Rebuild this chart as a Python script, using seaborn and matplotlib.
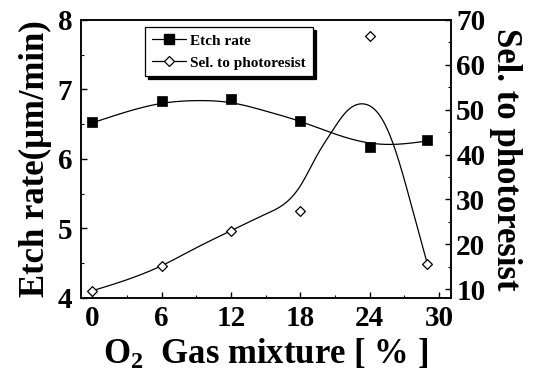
import numpy as np
import pandas as pd
import matplotlib
matplotlib.use("Agg")
import matplotlib.pyplot as plt
import seaborn as sns
from matplotlib.lines import Line2D
from matplotlib.ticker import MultipleLocator

# ---- data ----
o2_percent = [0, 6, 12, 18, 24, 29]
etch_rate = [6.53, 6.83, 6.87, 6.55, 6.17, 6.27]          # um/min (left axis)
selectivity = [9.6, 15.2, 23.0, 27.4, 66.5, 15.5]          # right axis

# fitted guide curves as drawn in the original
etch_curve_x = [0, 3, 6, 9, 12, 15, 18, 21, 24, 26, 29]
etch_curve_y = [6.52, 6.68, 6.80, 6.84, 6.81, 6.69, 6.54, 6.36, 6.23, 6.21, 6.26]
sel_curve_x = [0, 6, 9, 12, 15, 18, 19.4, 20.7, 22, 23.4, 25, 26, 27.7, 29]
sel_curve_y = [9.6, 15.2, 19.2, 23.0, 26.7, 33.0, 39.6, 45.0, 49.6, 51.3, 48.2, 42.6, 27.8, 15.5]

x_ticks = [0, 6, 12, 18, 24, 30]
left_ticks = [4, 5, 6, 7, 8]
right_ticks = [10, 20, 30, 40, 50, 60, 70]


def smooth(x, y, n=400):
    """natural cubic spline used only to render the guide curve smoothly"""
    x = np.asarray(x, float); y = np.asarray(y, float)
    nn = len(x); h = np.diff(x)
    A = np.zeros((nn, nn)); b = np.zeros(nn)
    A[0, 0] = A[-1, -1] = 1
    for i in range(1, nn - 1):
        A[i, i - 1] = h[i - 1]; A[i, i] = 2 * (h[i - 1] + h[i]); A[i, i + 1] = h[i]
        b[i] = 3 * ((y[i + 1] - y[i]) / h[i] - (y[i] - y[i - 1]) / h[i - 1])
    c = np.linalg.solve(A, b)
    xs = np.linspace(x[0], x[-1], n)
    idx = np.clip(np.searchsorted(x, xs) - 1, 0, nn - 2)
    dx = xs - x[idx]
    bc = (y[1:] - y[:-1]) / h - h * (2 * c[:-1] + c[1:]) / 3
    d = (c[1:] - c[:-1]) / (3 * h)
    ys = y[idx] + bc[idx] * dx + c[idx] * dx ** 2 + d[idx] * dx ** 3
    return xs, ys


sns.set_theme(style="ticks")
plt.rcParams["font.family"] = ["Liberation Serif", "DejaVu Serif"]
plt.rcParams["font.weight"] = "bold"
plt.rcParams["mathtext.fontset"] = "custom"
plt.rcParams["mathtext.rm"] = "Liberation Serif:bold"
plt.rcParams["mathtext.bf"] = "Liberation Serif:bold"
plt.rcParams["mathtext.it"] = "Liberation Serif:bold"
for key in ("text.color", "axes.labelcolor", "xtick.color", "ytick.color", "axes.edgecolor"):
    plt.rcParams[key] = "black"

fig = plt.figure(figsize=(5.33, 3.86), dpi=100)
ax = fig.add_axes([0.1514, 0.2280, 0.694, 0.7202])
ax2 = ax.twinx()

ex, ey = smooth(etch_curve_x, etch_curve_y)
sx, sy = smooth(sel_curve_x, sel_curve_y)
df_e = pd.DataFrame({"x": ex, "y": ey})
df_s = pd.DataFrame({"x": sx, "y": sy})
pts = pd.DataFrame({"x": o2_percent, "etch": etch_rate, "sel": selectivity})

sns.lineplot(data=df_e, x="x", y="y", ax=ax, color="black", lw=0.9,
             sort=False, estimator=None, legend=False)
sns.scatterplot(data=pts, x="x", y="etch", ax=ax, marker="s", s=46,
                color="black", edgecolor="black", linewidth=0.5, zorder=3, legend=False)
sns.lineplot(data=df_s, x="x", y="y", ax=ax2, color="black", lw=0.9,
             sort=False, estimator=None, legend=False)
sns.scatterplot(data=pts, x="x", y="sel", ax=ax2, marker="D", s=25,
                facecolor="white", edgecolor="black", linewidth=0.9, zorder=3, legend=False)

ax.set_xlim(-1, 31)
ax.set_ylim(4, 8)
ax2.set_ylim(8, 70)
ax.set_xticks(x_ticks)
ax.set_yticks(left_ticks)
ax2.set_yticks(right_ticks)
ax.xaxis.set_minor_locator(MultipleLocator(3))
ax.yaxis.set_minor_locator(MultipleLocator(0.5))
ax2.yaxis.set_minor_locator(MultipleLocator(5))

tick_fs = 21
ax.tick_params(axis="x", which="major", direction="in", length=4.5, width=1,
               labelsize=tick_fs, pad=5, top=False, colors="black")
ax.tick_params(axis="x", which="minor", direction="in", length=2.5, width=0.8, top=False)
ax.tick_params(axis="y", which="major", direction="in", length=4.5, width=1,
               labelsize=tick_fs, pad=6, right=False, colors="black")
ax.tick_params(axis="y", which="minor", direction="in", length=2.5, width=0.8, right=False)
ax2.tick_params(axis="y", which="major", direction="in", length=4.5, width=1,
                labelsize=tick_fs, pad=4, colors="black")
ax2.tick_params(axis="y", which="minor", direction="in", length=2.5, width=0.8)
for lab in ax.get_xticklabels() + ax.get_yticklabels() + ax2.get_yticklabels():
    lab.set_fontweight("bold")

for a in (ax, ax2):
    for sp in a.spines.values():
        sp.set_linewidth(1.1)
        sp.set_color("black")

ax.set_xlabel(r"O$_{\mathrm{2}}$  Gas mixture [ % ]", fontsize=25, fontweight="bold",
              labelpad=4, color="black")
ax.set_ylabel("Etch rate(\u03bcm/min)", fontsize=25, fontweight="bold", labelpad=4,
              color="black")
ax2.set_ylabel("Sel. to photoresist", fontsize=25, fontweight="bold", rotation=270,
               labelpad=26, color="black")

handles = [
    Line2D([], [], color="black", lw=0.9, marker="s", markersize=6.5,
           markerfacecolor="black", markeredgecolor="black"),
    Line2D([], [], color="black", lw=0.9, marker="D", markersize=5.5,
           markerfacecolor="white", markeredgecolor="black", markeredgewidth=0.9),
]
leg = ax2.legend(handles, ["Etch rate", "Sel. to photoresist"], loc="upper left",
                 bbox_to_anchor=(0.174, 0.975), borderaxespad=0, frameon=True,
                 fancybox=False, shadow={"color": "black", "alpha": 1},
                 prop={"family": "Liberation Serif", "weight": "bold", "size": 11},
                 handlelength=2.2, handletextpad=0.3, borderpad=0.45, labelspacing=0.55)
leg.get_frame().set_edgecolor("black")
leg.get_frame().set_linewidth(0.9)
for t in leg.get_texts():
    t.set_color("black")

fig.savefig("out.png", dpi=100)
